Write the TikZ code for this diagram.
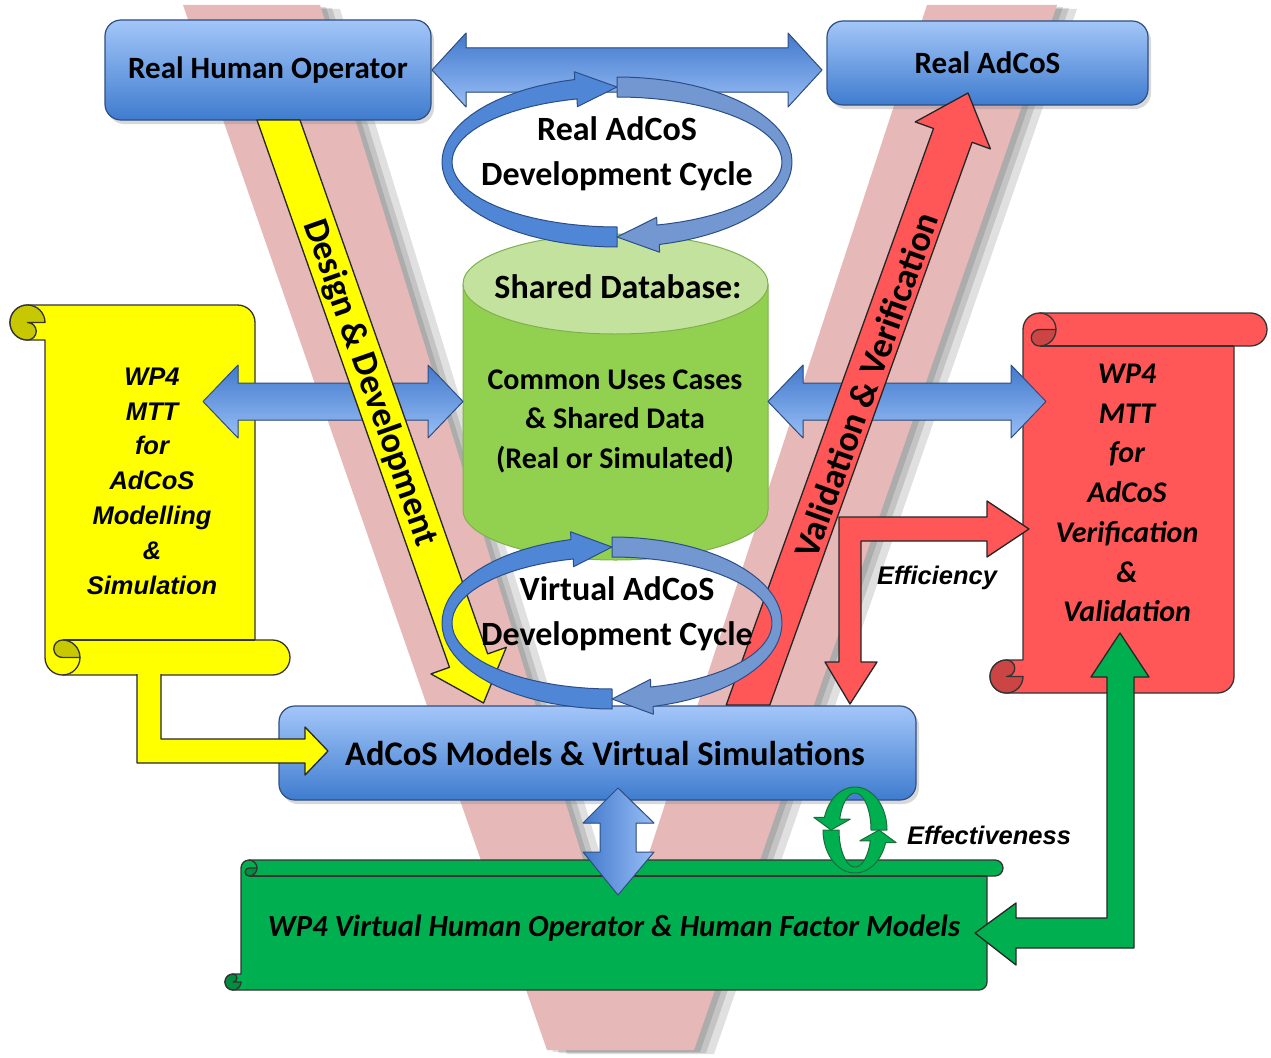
\documentclass[tikz,border=0pt]{standalone}
\usepackage{fontspec}
\setmainfont{Carlito}
\newfontfamily\arialf{Liberation Sans}
\usetikzlibrary{shadows}
\definecolor{vpink}{HTML}{E6B9B8}
\definecolor{btop}{HTML}{A3C6F9}
\definecolor{bbot}{HTML}{3F7CCF}
\definecolor{bline}{HTML}{2F4F80}
\definecolor{adark}{HTML}{4279CC}
\definecolor{alight}{HTML}{98BEF6}
\definecolor{ylw}{HTML}{FFFF00}
\definecolor{ylwd}{HTML}{C8C800}
\definecolor{rd}{HTML}{FF5757}
\definecolor{rdd}{HTML}{CC4545}
\definecolor{gr}{HTML}{00B050}
\definecolor{grd}{HTML}{008D40}
\definecolor{cylb}{HTML}{92D050}
\definecolor{cylt}{HTML}{C3E29D}
\definecolor{cyll}{HTML}{7FB04F}
\definecolor{ringa}{HTML}{4F86D6}
\definecolor{ringb}{HTML}{7397D0}
\definecolor{ringl}{HTML}{2B4E88}
\definecolor{ringg}{HTML}{1E6B3A}

\newcommand\Vpath{(183,5) -- (547,1050) -- (694,1050) -- (1057,5) -- (927,5) -- (614,960) -- (320,5) -- cycle}

\newcommand\hdarrow[6]{%
  \filldraw[barrow] (#1,#3) -- ({#1+#4},{#3-#6}) -- ({#1+#4},{#3-#5}) -- ({#2-#4},{#3-#5}) -- ({#2-#4},{#3-#6}) -- (#2,#3) -- ({#2-#4},{#3+#6}) -- ({#2-#4},{#3+#5}) -- ({#1+#4},{#3+#5}) -- ({#1+#4},{#3+#6}) -- cycle;}

\newcommand\scrollshape[5]{%
  \pgfmathsetmacro\sw{#1}\pgfmathsetmacro\sh{#2}\pgfmathsetmacro\sc{#3}%
  \pgfmathsetmacro\sch{#3/2}\pgfmathsetmacro\scq{#3/4}%
  \filldraw[fill=#4, scrline] (\sc,\sch) arc[start angle=180, delta angle=90, radius=\sch]
    -- ({\sw-\sch},0) arc[start angle=270, delta angle=180, radius=\sch]
    -- ({\sw-\sc},\sc) -- ({\sw-\sc},{\sh-\sch}) arc[start angle=0, delta angle=90, radius=\sch]
    -- (\sch,\sh) arc[start angle=90, delta angle=180, radius=\sch]
    -- (\sc,{\sh-\sc}) -- cycle;
  \draw[scrline] ({1.5*\sc},\sc) -- ({\sw-\sc},\sc);
  \draw[scrline] ({1.5*\sc},0) arc[start angle=270, delta angle=90, radius=\sch];
  \filldraw[fill=#5, scrline] ({2*\sc},\sch) arc[start angle=0, delta angle=90, radius=\sch]
    arc[start angle=90, delta angle=180, radius=\scq] -- cycle;
  \filldraw[fill=#5, scrline] (\sc,{\sh-\sch}) arc[start angle=0, delta angle=270, radius=\sch]
    arc[start angle=270, delta angle=180, radius=\scq] -- cycle;
}

% cx cy a b wx wy t1 t3(head base) t2(tip)
\newcommand\ringarr[9]{%
  \filldraw[ringsty] plot[domain=#7:#8, samples=40] ({#1+(#3+#5)*cos(\x)},{#2+(#4+#6)*sin(\x)})
    -- ({#1+(#3+\rhx)*cos(#8)},{#2+(#4+\rhy)*sin(#8)})
    -- ({#1+#3*cos(#9)},{#2+#4*sin(#9)})
    -- ({#1+(#3-\rhx)*cos(#8)},{#2+(#4-\rhy)*sin(#8)})
    -- plot[domain=#8:#7, samples=40] ({#1+(#3-#5)*cos(\x)},{#2+(#4-#6)*sin(\x)})
    -- cycle;}

\tikzset{
  bluebox/.style={draw=bline, line width=1.2pt, rounded corners=16pt, top color=btop, bottom color=bbot,
    drop shadow={opacity=0.3, shadow xshift=3pt, shadow yshift=-4pt}},
  barrow/.style={draw=bline, line width=1pt, top color=adark, bottom color=alight},
  scrline/.style={draw=black!80, line width=1.3pt},
  blk/.style={draw=black!85, line width=1.3pt},
  boxtxt/.style={font=\fontsize{31}{36}\selectfont\bfseries, inner sep=0pt},
  bigtxt/.style={font=\fontsize{34}{45}\selectfont\bfseries, inner sep=0pt, align=center},
  arialtxt/.style={font=\arialf\bfseries\itshape\fontsize{25.5}{34.8}\selectfont, inner sep=0pt, align=center},
  calitxt/.style={font=\bfseries\itshape\fontsize{30}{39.7}\selectfont, inner sep=0pt, align=center},
  ringsty/.style={fill=ringa, draw=ringl, line width=1pt}
}

\begin{document}
\begin{tikzpicture}[x=1pt, y=-1pt, line join=round]
\useasboundingbox (0,0) rectangle (1271,1057);
\fill[white] (0,0) rectangle (1271,1057);

% V shape with soft shadow
\begin{scope}[shift={(20,4)}]\fill[black, opacity=0.12] \Vpath;\end{scope}
\begin{scope}[shift={(12,3)}]\fill[black, opacity=0.12] \Vpath;\end{scope}
\begin{scope}[shift={(6,2)}]\fill[black, opacity=0.12] \Vpath;\end{scope}
\fill[vpink] \Vpath;

% top boxes
\node[bluebox, minimum width=326pt, minimum height=100pt, boxtxt] (rho) at (268,70) {Real Human Operator};
\node[bluebox, minimum width=321pt, minimum height=84pt, boxtxt] (rac) at (987.5,63) {Real AdCoS};
\hdarrow{432}{822}{70}{34}{22}{37}

% models box
\node[bluebox, minimum width=637pt, minimum height=94pt] (models) at (597.5,753) {};

% scrolls
\begin{scope}[shift={(10,675)}, yscale=-1]\scrollshape{280}{370}{35}{ylw}{ylwd}\end{scope}
\begin{scope}[shift={(990,313)}]\scrollshape{277}{380}{33}{rd}{rdd}\end{scope}
\begin{scope}[shift={(225,860)}]\scrollshape{778}{130}{16}{gr}{grd}\end{scope}

% cylinder
\coordinate (db) at (615.5,400);
\fill[cylb] (463,284) -- (463,510) arc[start angle=180, delta angle=-180, x radius=152.5, y radius=50] -- (768,284) -- cycle;
\draw[cyll, line width=1pt] (463,284) -- (463,510) arc[start angle=180, delta angle=-180, x radius=152.5, y radius=50] -- (768,284);
\filldraw[fill=cylt, draw=cyll, line width=1pt] (615.5,284) ellipse [x radius=152.5, y radius=50];

% middle double arrows
\hdarrow{203}{463}{401.5}{35}{18.5}{36.5}
\hdarrow{768}{1046}{401.5}{35}{18.5}{36.5}

% vertical double arrow
\filldraw[draw=bline, line width=1pt, left color=adark, right color=alight]
  (618,788) -- (654,823) -- (636,823) -- (636,852) -- (654,852) -- (618,895) -- (583,852) -- (600,852) -- (600,823) -- (583,823) -- cycle;

% yellow diagonal arrow
\filldraw[fill=ylw, blk] (257,120) -- (449.5,667.3) -- (430.9,673.9) -- (483.5,703) -- (506.3,647.3) -- (487.7,653.9) -- (300,120) -- cycle;
% red diagonal arrow
\filldraw[fill=rd, blk] (726.2,705) -- (933.5,128.5) -- (915.2,121.9) -- (968,93) -- (990.4,148.9) -- (972.1,142.3) -- (769.8,705) -- cycle;

% yellow L arrow
\filldraw[fill=ylw, blk] (137,674) -- (137,763) -- (305,763) -- (305,775) -- (328,751) -- (305,727) -- (305,739) -- (161,739) -- (161,674);
% red L arrow (Efficiency)
\filldraw[fill=rd, blk] (1029,529) -- (987,501) -- (987,517) -- (839,517) -- (839,662) -- (825,662) -- (850,704) -- (877,662) -- (861,662) -- (861,541) -- (987,541) -- (987,557) -- cycle;
% green L arrow
\filldraw[fill=gr, blk] (1120,633) -- (1149,677) -- (1134,677) -- (1134,948) -- (1016,948) -- (1016,965) -- (975,933) -- (1016,903) -- (1016,918) -- (1107,918) -- (1107,677) -- (1091,677) -- cycle;

% rings
\def\rhx{6}\def\rhy{18}
\ringarr{617}{162}{170}{75}{5}{10}{90}{256}{270}
\tikzset{ringsty/.style={fill=ringb, draw=ringl, line width=1pt}}
\ringarr{617}{162}{170}{75}{5}{10}{270}{436}{450}
\tikzset{ringsty/.style={fill=ringa, draw=ringl, line width=1pt}}
\ringarr{612}{623}{165}{76}{5}{10}{90}{256}{270}
\tikzset{ringsty/.style={fill=ringb, draw=ringl, line width=1pt}}
\ringarr{612}{623}{165}{76}{5}{10}{270}{436}{450}
\tikzset{ringsty/.style={fill=gr, draw=ringg, line width=1pt}}
\def\rhx{19}\def\rhy{3}
\ringarr{855}{830}{24}{40}{8}{3}{360}{197}{180}
\ringarr{855}{830}{24}{40}{8}{3}{180}{17}{0}

% texts
\node[boxtxt, font=\fontsize{34.5}{40}\selectfont\bfseries] (modtxt) at (605,753) {AdCoS Models \& Virtual Simulations};
\node[bigtxt] (realcyc) at (617,154) {Real AdCoS\\Development Cycle};
\node[bigtxt] (virtcyc) at (617,614) {Virtual AdCoS\\Development Cycle};
\node[bigtxt] (dbtitle) at (618,287) {Shared Database:};
\node[bigtxt, font=\fontsize{30}{39.5}\selectfont\bfseries] (dbtxt) at (615,421) {Common Uses Cases\\\& Shared Data\\(Real or Simulated)};
\node[bigtxt, font=\fontsize{36}{40}\selectfont\bfseries, rotate=-70.6] (dd) at (370,383) {Design \& Development};
\node[bigtxt, font=\fontsize{36}{40}\selectfont\bfseries, rotate=70.2] (vv) at (866,385) {Validation \& Verification};
\node[arialtxt] (ytxt) at (152,481) {WP4\\MTT\\for\\AdCoS\\Modelling\\\&\\Simulation};
\node[calitxt] (rtxt) at (1127,493) {WP4\\MTT\\for\\AdCoS\\Verification\\\&\\Validation};
\node[calitxt, font=\bfseries\itshape\fontsize{30.7}{36}\selectfont] (gtxt) at (614,928) {WP4 Virtual Human Operator \& Human Factor Models};
\node[arialtxt] (eff) at (937,578) {Efficiency};
\node[arialtxt] (effv) at (989,835) {Effectiveness};
\end{tikzpicture}
\end{document}
